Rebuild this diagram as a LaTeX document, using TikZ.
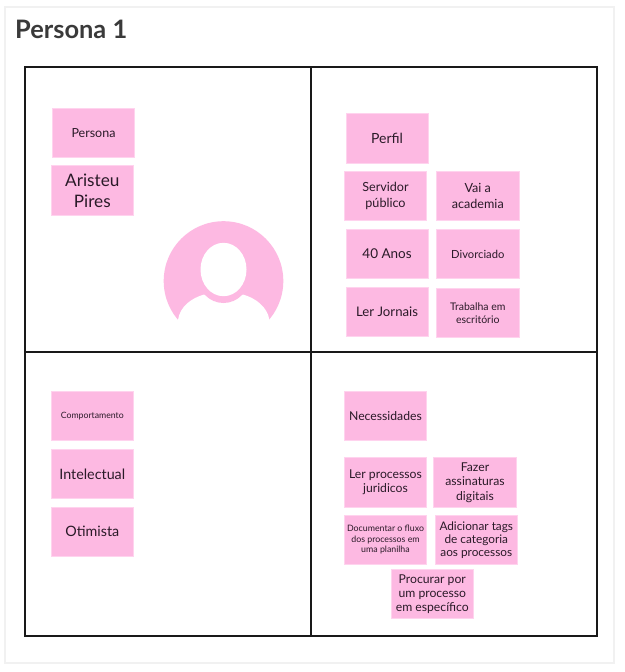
\documentclass[tikz,border=0pt]{standalone}
\usepackage{fontspec}
\setmainfont{Lato}
\definecolor{stickypink}{HTML}{FDB9E2}
\definecolor{stickyedge}{HTML}{FFD3EE}
\definecolor{cardedge}{HTML}{F1F1F1}
\definecolor{titlegray}{HTML}{3A3A3A}
\definecolor{inkdark}{HTML}{2A1A28}
\newcommand{\fs}[2]{\fontsize{#1}{#2}\selectfont}
\tikzset{
  sticky/.style={draw=stickyedge,line width=0.6pt,fill=stickypink,text=inkdark,align=center,
    minimum width=82.5pt,minimum height=49.5pt,inner sep=0pt,anchor=center,
    execute at begin node={\vspace*{1.4pt}}},
  frameline/.style={draw=black!90,line width=2pt},
}
\begin{document}
\begin{tikzpicture}[x=1pt,y=-1pt]
\useasboundingbox (0,0) rectangle (624,672);
\fill[white] (0,0) rectangle (624,672);
\draw[cardedge,line width=1.5pt] (5,7) rectangle (614,663);
\node[anchor=west,text=titlegray,font=\fs{25.4}{28}\bfseries,inner sep=0pt] (title) at (15,29.5) {Persona 1};
% frame
\coordinate (fa) at (25,67);
\coordinate (fb) at (597,636);
\draw[frameline] (fa) rectangle (fb);
\draw[frameline] (311,67) -- (311,636);
\draw[frameline] (25,351.7) -- (597,351.7);
% avatar
\begin{scope}
\clip (160,215) rectangle (290,319);
\fill[stickypink] (223.5,281) circle[radius=59.8];
\end{scope}
\fill[white] (178,320) .. controls (180,306) and (192,298) .. (204,294.5) -- (243,294.5) .. controls (255,298) and (267,306) .. (269.5,320) -- cycle;
\fill[stickypink] (223.5,276) ellipse[x radius=26,y radius=27];
\fill[white] (223.5,269.5) ellipse[x radius=23,y radius=26.7];
% top left
\node[sticky,font=\fs{12.5}{14}] (s1) at (93.5,132.7) {Persona};
\node[sticky,font=\fs{17.2}{21}] (s2) at (92.3,190.3) {Aristeu\\Pires};
% top right
\node[sticky,font=\fs{14}{16}] (s3) at (387.1,138.3) {Perfil};
\node[sticky,font=\fs{12.6}{16}] (s4) at (385.5,196) {Servidor\\público};
\node[sticky,font=\fs{12.6}{16}] (s5) at (477.8,196) {Vai a\\academia};
\node[sticky,font=\fs{13.5}{16}] (s6) at (387.1,254) {40 Anos};
\node[sticky,font=\fs{11.2}{13}] (s7) at (477.8,254) {Divorciado};
\node[sticky,font=\fs{13.2}{16}] (s8) at (387.1,312) {Ler Jornais};
\node[sticky,font=\fs{10.5}{13}] (s9) at (477.8,313) {Trabalha em\\escritório};
% bottom left
\node[sticky,font=\fs{8.7}{10}] (s10) at (92.3,416) {Comportamento};
\node[sticky,font=\fs{14.3}{16}] (s11) at (92.3,474) {Intelectual};
\node[sticky,font=\fs{14.3}{16}] (s12) at (92.3,531.7) {Otimista};
% bottom right
\node[sticky,font=\fs{12.2}{14}] (s13) at (385.5,416) {Necessidades};
\node[sticky,font=\fs{12.2}{14}] (s14) at (385.5,482.3) {Ler processos\\juridicos};
\node[sticky,font=\fs{12.2}{14.5}] (s15) at (475,482.3) {Fazer\\assinaturas\\digitais};
\node[sticky,font=\fs{8.8}{10.5}] (s16) at (385.5,540) {Documentar o fluxo\\dos processos em\\uma planilha};
\node[sticky,font=\fs{11.8}{13}] (s17) at (476.3,540) {Adicionar tags\\de categoria\\aos processos};
\node[sticky,font=\fs{12.2}{13.8}] (s18) at (432.3,594) {Procurar por\\um processo\\em específico};
\end{tikzpicture}
\end{document}
